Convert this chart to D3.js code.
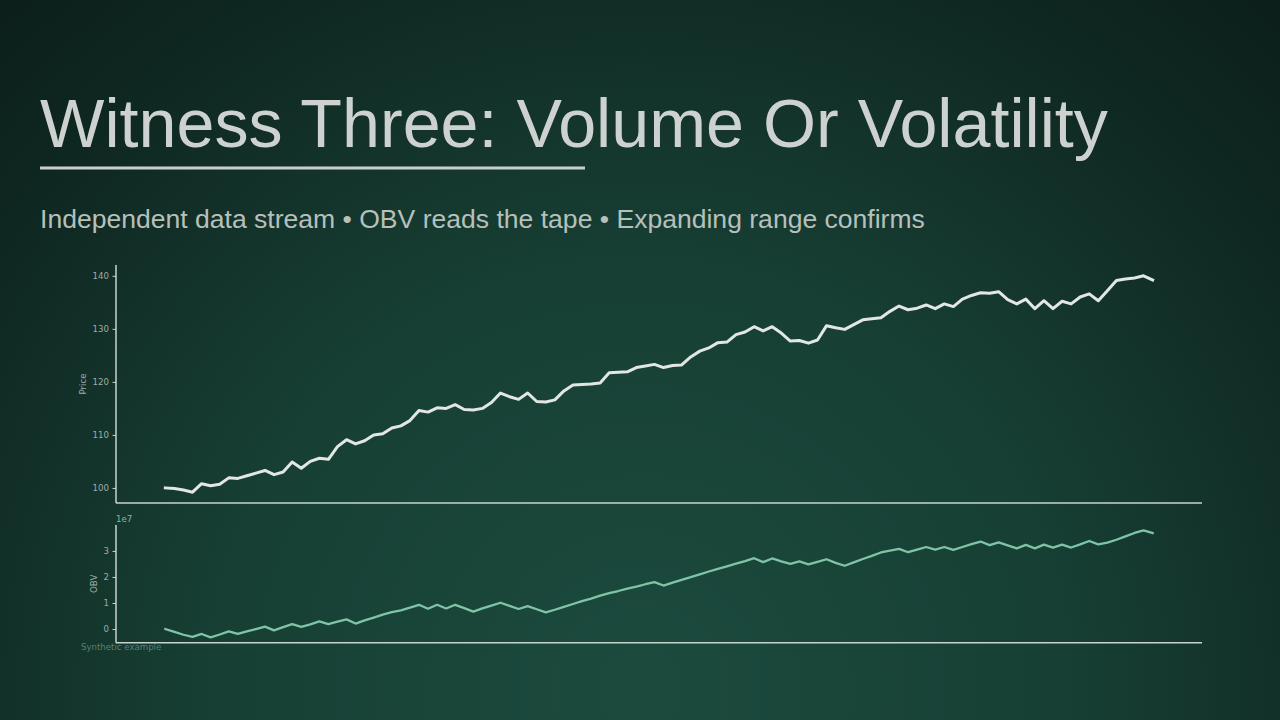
<!DOCTYPE html>
<html><head><meta charset="utf-8">
<script src="https://cdn.jsdelivr.net/npm/d3@7"></script>
<style>
html,body{margin:0;padding:0;background:#0f241f;overflow:hidden;}
svg{display:block;}
</style></head><body>
<svg id="c" width="1280" height="720"></svg>
<script>
const titleText = "Witness Three: Volume Or Volatility";
const subtitleText = "Independent data stream \u2022 OBV reads the tape \u2022 Expanding range confirms";
const footnoteText = "Synthetic example";
const priceLabel = "Price";
const obvLabel = "OBV";
const obvExponent = "1e7";

// Closing price per day
const price = [
  100.0, 99.9, 99.6, 99.2, 100.8, 100.4, 100.7, 101.9, 101.8, 102.3,
  102.8, 103.3, 102.5, 103.0, 104.9, 103.7, 105.0, 105.6, 105.4, 107.8,
  109.1, 108.3, 108.9, 110.0, 110.2, 111.3, 111.7, 112.7, 114.6, 114.3,
  115.1, 115.0, 115.7, 114.8, 114.7, 115.0, 116.1, 117.9, 117.2, 116.7,
  117.9, 116.3, 116.2, 116.6, 118.3, 119.4, 119.5, 119.6, 119.8, 121.7,
  121.8, 121.9, 122.7, 123.0, 123.3, 122.7, 123.1, 123.2, 124.7, 125.8,
  126.4, 127.4, 127.5, 128.9, 129.4, 130.4, 129.6, 130.4, 129.2, 127.7,
  127.8, 127.3, 127.9, 130.6, 130.2, 129.9, 130.8, 131.7, 131.9, 132.1,
  133.3, 134.3, 133.6, 133.9, 134.5, 133.8, 134.7, 134.2, 135.6, 136.3,
  136.8, 136.7, 137.0, 135.5, 134.7, 135.6, 133.8, 135.3, 133.8, 135.2,
  134.7, 136.0, 136.6, 135.3, 137.2, 139.1, 139.4, 139.6, 140.0, 139.2
];

// On-balance volume, in units of 1e7
const obv = [
  0.00, -0.11, -0.22, -0.30, -0.19, -0.32, -0.21, -0.09, -0.19, -0.09,
  0.00, 0.09, -0.05, 0.07, 0.19, 0.08, 0.18, 0.29, 0.19, 0.28,
  0.37, 0.21, 0.33, 0.44, 0.55, 0.65, 0.72, 0.82, 0.93, 0.78,
  0.93, 0.79, 0.93, 0.80, 0.67, 0.79, 0.90, 1.01, 0.89, 0.77,
  0.88, 0.76, 0.64, 0.74, 0.85, 0.96, 1.07, 1.17, 1.28, 1.38,
  1.46, 1.55, 1.63, 1.72, 1.80, 1.67, 1.78, 1.89, 1.99, 2.10,
  2.21, 2.31, 2.41, 2.51, 2.61, 2.72, 2.57, 2.71, 2.60, 2.50,
  2.60, 2.48, 2.58, 2.68, 2.54, 2.43, 2.56, 2.69, 2.81, 2.94,
  3.01, 3.08, 2.95, 3.05, 3.15, 3.05, 3.15, 3.04, 3.15, 3.26,
  3.36, 3.22, 3.33, 3.21, 3.10, 3.23, 3.10, 3.24, 3.13, 3.24,
  3.13, 3.25, 3.38, 3.25, 3.32, 3.43, 3.56, 3.69, 3.79, 3.69
];

const priceTicks = [100, 110, 120, 130, 140];
const obvTicks = [0, 1, 2, 3];

const days = d3.range(price.length);

const W = 1280, H = 720;
const svg = d3.select("#c");

// background
const defs = svg.append("defs");
const rg = defs.append("radialGradient").attr("id", "bg")
  .attr("gradientUnits", "userSpaceOnUse")
  .attr("cx", 640).attr("cy", 690).attr("r", 950)
  .attr("fx", 640).attr("fy", 690);
rg.append("stop").attr("offset", "0%").attr("stop-color", "#1c4b3e");
rg.append("stop").attr("offset", "45%").attr("stop-color", "#173f34");
rg.append("stop").attr("offset", "80%").attr("stop-color", "#0f2822");
rg.append("stop").attr("offset", "100%").attr("stop-color", "#0c1e1a");
svg.append("rect").attr("width", W).attr("height", H).attr("fill", "url(#bg)");

// title
const title = svg.append("text")
  .attr("x", 40).attr("y", 147)
  .attr("font-family", "'Liberation Sans', Arial, Helvetica, sans-serif")
  .attr("font-size", 67)
  .attr("fill", "#cdd2d0")
  .text(titleText);
{
  const w = title.node().getComputedTextLength();
  title.attr("font-size", 67 * 1068 / w);
}
svg.append("rect").attr("x", 40).attr("y", 166.5).attr("width", 545).attr("height", 3)
  .attr("fill", "#c9cfcc");

const sub = svg.append("text")
  .attr("x", 40).attr("y", 228)
  .attr("font-family", "'Liberation Sans', Arial, Helvetica, sans-serif")
  .attr("font-size", 24)
  .attr("fill", "#b7c0bc")
  .text(subtitleText);
{
  const w = sub.node().getComputedTextLength();
  sub.attr("font-size", 24 * 885 / w);
}

// chart geometry
const L = 116, R = 1202;
const top1 = 265, bot1 = 503;
const top2 = 525, bot2 = 642.7;
const pad = ([a, b]) => [a - (b - a) * 0.05, b + (b - a) * 0.05];

const x = d3.scaleLinear().domain(pad(d3.extent(days))).range([L, R]);
const yP = d3.scaleLinear().domain(pad(d3.extent(price))).range([bot1, top1]);
const yO = d3.scaleLinear().domain(pad(d3.extent(obv))).range([bot2, top2]);

const spine = "#c8d3ce";
const tickCol = "#9eada6";
const fontSmall = "'DejaVu Sans', Verdana, sans-serif";

// footnote (drawn under the axis line)
svg.append("text").attr("x", 81).attr("y", 649.5)
  .attr("font-family", fontSmall).attr("font-size", 8.6)
  .attr("fill", "#5c7f73").text(footnoteText);

function styleAxis(g) {
  g.select(".domain").remove();
  g.selectAll(".tick line").attr("stroke", spine).attr("stroke-width", 1);
  g.selectAll(".tick text").attr("fill", tickCol)
    .attr("font-family", fontSmall).attr("font-size", 8.6);
}

// top panel
const gP = svg.append("g").attr("transform", `translate(${L},0)`)
  .call(d3.axisLeft(yP).tickValues(priceTicks).tickSize(3.5).tickPadding(3.5).tickFormat(d3.format("d")));
styleAxis(gP);

svg.append("path").datum(days)
  .attr("fill", "none").attr("stroke", "#e3e7e4").attr("stroke-width", 3)
  .attr("stroke-linejoin", "round").attr("stroke-linecap", "square")
  .attr("d", d3.line().x(i => x(i)).y(i => yP(price[i])));

svg.append("line").attr("x1", L).attr("x2", L).attr("y1", top1).attr("y2", bot1)
  .attr("stroke", spine).attr("stroke-width", 1.5);
svg.append("line").attr("x1", L).attr("x2", R).attr("y1", bot1).attr("y2", bot1)
  .attr("stroke", spine).attr("stroke-width", 1.5);

svg.append("text")
  .attr("transform", `translate(86,${(top1 + bot1) / 2}) rotate(-90)`)
  .attr("text-anchor", "middle")
  .attr("font-family", fontSmall).attr("font-size", 8.6).attr("fill", tickCol)
  .text(priceLabel);

// bottom panel
const gO = svg.append("g").attr("transform", `translate(${L},0)`)
  .call(d3.axisLeft(yO).tickValues(obvTicks).tickSize(3.5).tickPadding(3.5).tickFormat(d3.format("d")));
styleAxis(gO);

svg.append("path").datum(days)
  .attr("fill", "none").attr("stroke", "#7fc4a7").attr("stroke-width", 2.3)
  .attr("stroke-linejoin", "round").attr("stroke-linecap", "square")
  .attr("d", d3.line().x(i => x(i)).y(i => yO(obv[i])));

svg.append("line").attr("x1", L).attr("x2", L).attr("y1", top2).attr("y2", bot2)
  .attr("stroke", spine).attr("stroke-width", 1.5);
svg.append("line").attr("x1", L).attr("x2", R).attr("y1", bot2).attr("y2", bot2)
  .attr("stroke", spine).attr("stroke-width", 1.5);

svg.append("text")
  .attr("transform", `translate(97,${(top2 + bot2) / 2}) rotate(-90)`)
  .attr("text-anchor", "middle")
  .attr("font-family", fontSmall).attr("font-size", 8.6).attr("fill", tickCol)
  .text(obvLabel);

svg.append("text").attr("x", L).attr("y", 522)
  .attr("font-family", fontSmall).attr("font-size", 8.6).attr("fill", tickCol)
  .text(obvExponent);
</script>
</body></html>
